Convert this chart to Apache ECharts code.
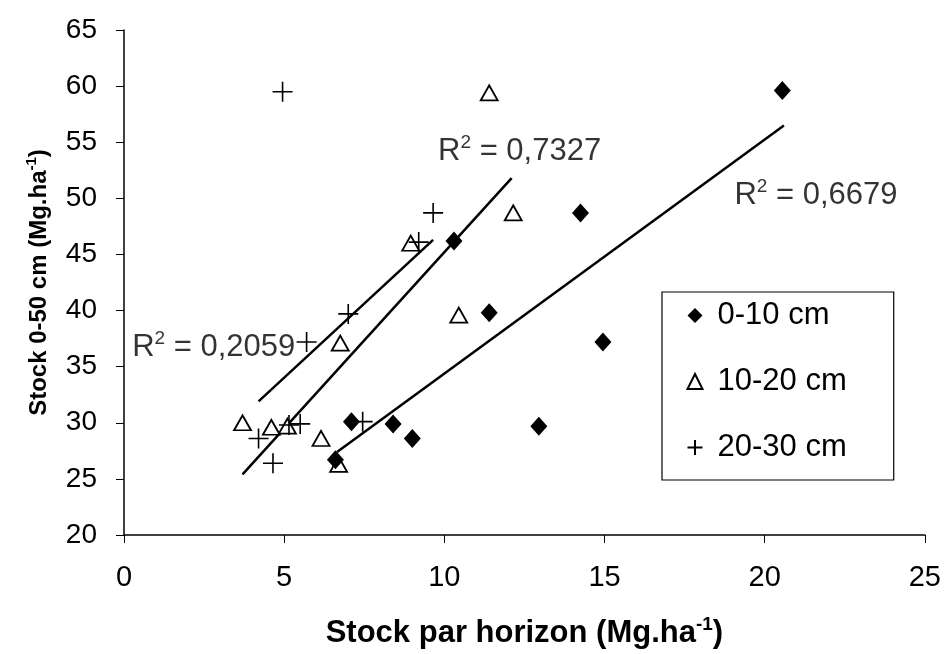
<!DOCTYPE html>
<html>
<head>
<meta charset="utf-8">
<script src="https://cdn.jsdelivr.net/npm/echarts@6/dist/echarts.min.js"></script>
<style>html,body{margin:0;padding:0;background:#fff}#c{width:944px;height:654px}</style>
</head>
<body>
<div id="c"></div>
<script>
// Series names
const seriesNames = ['0-10 cm', '10-20 cm', '20-30 cm'];
// 0-10 cm : [stock par horizon, stock 0-50 cm]
const d0_10 = [[6.6,26.7],[7.1,30.1],[8.4,29.9],[9.0,28.6],[10.3,46.2],[11.4,39.8],[12.95,29.7],[14.25,48.7],[14.95,37.2],[20.55,59.6]];
// 10-20 cm
const d10_20 = [[3.7,30.0],[4.6,29.6],[5.1,29.7],[6.15,28.6],[6.7,26.3],[6.75,37.1],[8.95,46.0],[10.45,39.6],[12.15,48.7],[11.4,59.4]];
// 20-30 cm
const d20_30 = [[4.2,28.6],[4.65,26.4],[4.95,59.5],[5.15,29.8],[5.5,29.9],[5.7,37.2],[7.0,39.7],[7.45,30.1],[9.2,46.1],[9.65,48.7]];
// Linear trend lines (end points)
const trend0_10 = [[6.65,27.4],[20.6,56.5]];
const trend10_20 = [[3.7,25.4],[12.1,51.8]];
const trend20_30 = [[4.2,31.9],[9.65,46.3]];
// R² labels: [x, y, text]
const r2Labels = [[12.35,54.2,'0,7327'],[21.6,50.3,'0,6679'],[2.8,36.7,'0,2059']];
// axis ticks
const xTicks = {min:0, max:25, interval:5};
const yTicks = {min:20, max:65, interval:5};

const chart = echarts.init(document.getElementById('c'), null, {renderer:'canvas'});
const crossPath = 'path://M0,10 L20,10 M10,0 L10,20';
const font = 'Liberation Sans, Arial, sans-serif';

const option = {
  animation: false,
  backgroundColor: '#fff',
  grid: {left:124, right:19, top:30, bottom:119, containLabel:false},
  xAxis: {
    type:'value', min:xTicks.min, max:xTicks.max, interval:xTicks.interval,
    axisLine:{show:true, onZero:false, lineStyle:{color:'#000', width:1.5}},
    axisTick:{show:true, inside:false, length:8, lineStyle:{color:'#000', width:1}},
    splitLine:{show:false},
    axisLabel:{color:'#000', fontSize:29, fontFamily:font, margin:28},
    name:'{t|Stock par horizon (Mg.ha}{s|-1}{t|)}',
    nameLocation:'middle', nameGap:80,
    nameTextStyle:{rich:{
      t:{fontSize:31, fontWeight:'bold', fontFamily:font, color:'#000', lineHeight:36},
      s:{fontSize:19, fontWeight:'bold', fontFamily:font, color:'#000', verticalAlign:'top', lineHeight:36}
    }}
  },
  yAxis: {
    type:'value', min:yTicks.min, max:yTicks.max, interval:yTicks.interval,
    axisLine:{show:true, onZero:false, lineStyle:{color:'#000', width:1.5}},
    axisTick:{show:true, inside:false, length:8, lineStyle:{color:'#000', width:1}},
    splitLine:{show:false},
    axisLabel:{color:'#000', fontSize:28, fontFamily:font, margin:27},
    name:'{t|Stock 0-50 cm (Mg.ha}{s|-1}{t|)}',
    nameLocation:'middle', nameGap:70, nameRotate:90,
    nameTextStyle:{rich:{
      t:{fontSize:24, fontWeight:'bold', fontFamily:font, color:'#000', lineHeight:30},
      s:{fontSize:15, fontWeight:'bold', fontFamily:font, color:'#000', verticalAlign:'top', lineHeight:30}
    }}
  },
  legend: {
    orient:'vertical', left:662, top:292,
    padding:[8,47,17,23], itemGap:35,
    borderColor:'#000', borderWidth:1.2, backgroundColor:'#fff',
    itemWidth:15, itemHeight:15,
    textStyle:{fontSize:31, fontFamily:font, color:'#000', padding:[0,0,0,10]},
    data:[
      {name:seriesNames[0], icon:'diamond'},
      {name:seriesNames[1], icon:'triangle'},
      {name:seriesNames[2], icon:crossPath}
    ]
  },
  series: [
    {type:'line', data:trend0_10, showSymbol:false, symbol:'none', lineStyle:{color:'#000', width:2.5}, silent:true, z:1},
    {type:'line', data:trend10_20, showSymbol:false, symbol:'none', lineStyle:{color:'#000', width:2.5}, silent:true, z:1},
    {type:'line', data:trend20_30, showSymbol:false, symbol:'none', lineStyle:{color:'#000', width:2.5}, silent:true, z:1},
    {name:seriesNames[0], type:'scatter', data:d0_10, symbol:'diamond', symbolSize:[17,19],
      itemStyle:{color:'#000', borderColor:'#000', borderWidth:0, opacity:1}, z:3},
    {name:seriesNames[1], type:'scatter', data:d10_20, symbol:'triangle', symbolSize:[17,15],
      itemStyle:{color:'#fff', borderColor:'#000', borderWidth:1.8, opacity:1}, z:2},
    {name:seriesNames[2], type:'scatter', data:d20_30, symbol:crossPath, symbolSize:20,
      itemStyle:{color:'none', borderColor:'#000', borderWidth:1.6, opacity:1}, z:2},
    {type:'scatter', data:r2Labels.map(r=>({value:[r[0],r[1]], txt:r[2]})), symbolSize:0, silent:true, z:5,
      label:{show:true, position:'inside', color:'#000', textBorderWidth:0,
        formatter:p=>'{r|R}{s|2}{r| = '+p.data.txt+'}',
        rich:{
          r:{fontSize:31, fontFamily:font, color:'#000', lineHeight:36, textBorderWidth:0},
          s:{fontSize:19, fontFamily:font, color:'#000', verticalAlign:'top', lineHeight:36, textBorderWidth:0}
        }}
    }
  ]
};
chart.setOption(option);
</script>
</body>
</html>
